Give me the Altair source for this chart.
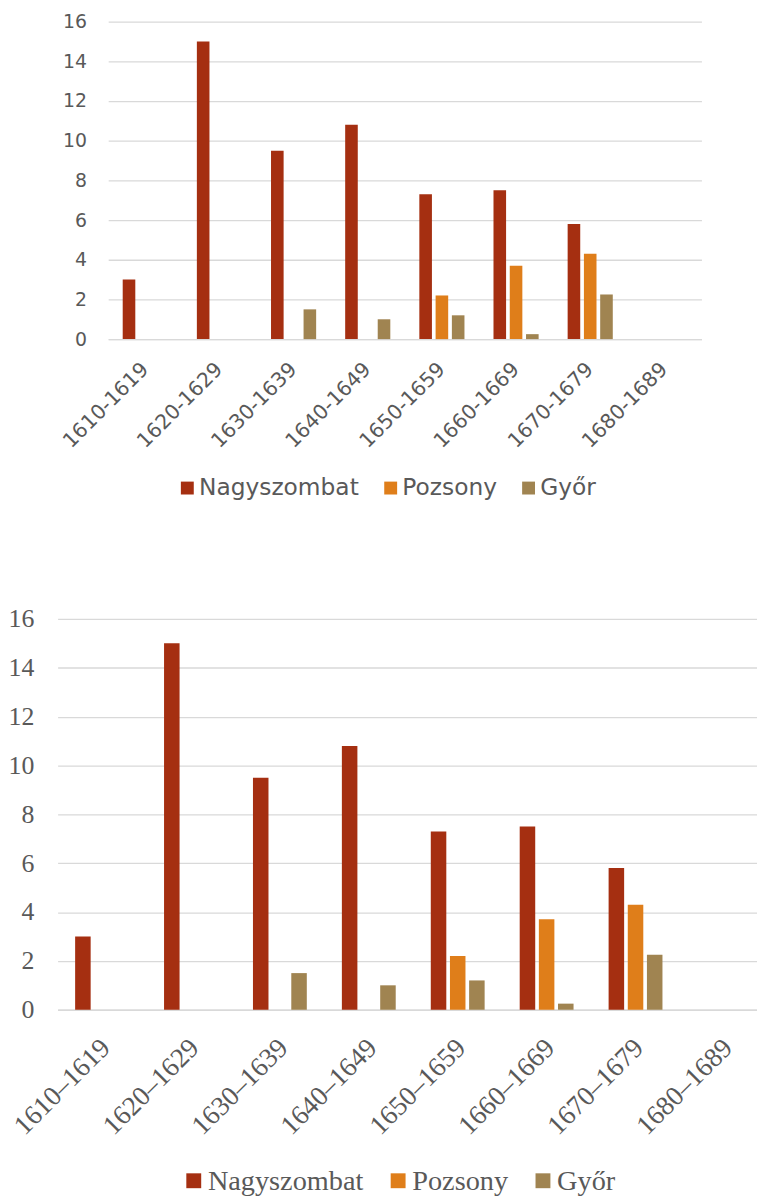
import altair as alt
import pandas as pd

periods_top = ["1610-1619", "1620-1629", "1630-1639", "1640-1649",
               "1650-1659", "1660-1669", "1670-1679", "1680-1689"]
periods_bottom = ["1610–1619", "1620–1629", "1630–1639", "1640–1649",
                  "1650–1659", "1660–1669", "1670–1679", "1680–1689"]
series = ["Nagyszombat", "Pozsony", "Győr"]
nagyszombat = [3, 15, 9.5, 10.8, 7.3, 7.5, 5.8, 0]
pozsony = [0, 0, 0, 0, 2.2, 3.7, 4.3, 0]
gyor = [0, 0, 1.5, 1, 1.2, 0.25, 2.25, 0]
colors = ["#A52F11", "#DF7E1A", "#A08451"]
y_ticks = [0, 2, 4, 6, 8, 10, 12, 14, 16]

GRID = "#D9D9D9"
TEXT = "#595959"


def make_df(periods):
    rows = []
    for name, vals in zip(series, [nagyszombat, pozsony, gyor]):
        for p, v in zip(periods, vals):
            rows.append({"period": p, "series": name, "value": v})
    return pd.DataFrame(rows)


def make_chart(periods, font, tick_size, xlab_size, legend_size, width,
               height, y_extent, y_pad, x_pad, x_off, off_pi, off_po, sym,
               leg_x, leg_y, col_pad):
    return alt.Chart(make_df(periods)).mark_bar().encode(
        x=alt.X("period:N", sort=periods,
                scale=alt.Scale(paddingInner=0, paddingOuter=0),
                axis=alt.Axis(title=None, labelAngle=-45, labelFont=font,
                              labelFontSize=xlab_size, labelColor=TEXT,
                              labelPadding=x_pad, labelOffset=x_off,
                              ticks=False, domainColor=GRID, domainWidth=1.3,
                              labelOverlap=False)),
        xOffset=alt.XOffset("series:N", sort=series,
                            scale=alt.Scale(domain=series,
                                            paddingInner=off_pi,
                                            paddingOuter=off_po)),
        y=alt.Y("value:Q", scale=alt.Scale(domain=[0, 16]),
                axis=alt.Axis(title=None, values=y_ticks, labelFont=font,
                              labelFontSize=tick_size, labelColor=TEXT,
                              labelPadding=y_pad, minExtent=y_extent,
                              maxExtent=y_extent, domain=False, ticks=False,
                              gridColor=GRID, gridWidth=1.3)),
        color=alt.Color("series:N", sort=series,
                        scale=alt.Scale(domain=series, range=colors),
                        legend=alt.Legend(title=None, orient="none",
                                          direction="horizontal",
                                          legendX=leg_x, legendY=leg_y,
                                          labelFont=font,
                                          labelFontSize=legend_size,
                                          labelColor=TEXT,
                                          labelLimit=400,
                                          symbolType="square",
                                          symbolSize=sym,
                                          symbolStrokeWidth=0,
                                          labelOffset=0,
                                          columnPadding=col_pad)),
    ).properties(width=width, height=height)


top = make_chart(periods_top, "DejaVu Sans", 19, 20.5, 23.5, 598, 320,
                 48, 22, 20, -7, 0.226, 0.892, 169, 119, 458, 20)
bottom = make_chart(periods_bottom, "Liberation Serif", 26, 27.5, 28.5, 717,
                    394, 50, 24, 24, -6, 0.19, 0.915, 225, 123, 552, 20)

spacer = alt.Chart(pd.DataFrame({"a": [0]})).mark_point(
    size=0, opacity=0
).encode(x=alt.value(0), y=alt.value(0)).properties(width=1, height=1)

chart = alt.vconcat(
    alt.hconcat(spacer, top, spacing=0), bottom, spacing=107
).resolve_scale(
    color="independent", x="independent", xOffset="independent"
).resolve_legend(color="independent").properties(
    padding={"left": 0, "top": 0, "right": -12, "bottom": 0}
).configure_view(stroke=None)

chart.save("out.html", embed_options={"renderer": "svg", "actions": False})
